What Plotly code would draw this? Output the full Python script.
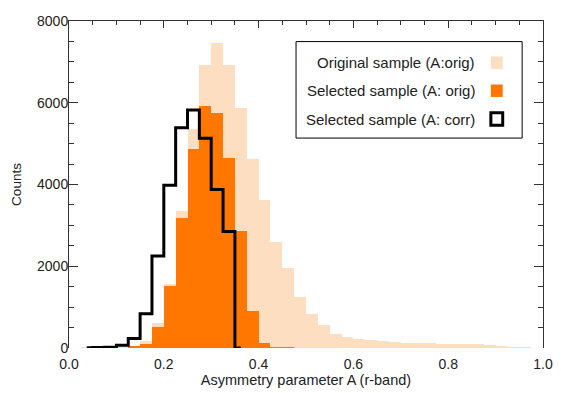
import plotly.graph_objects as go

# Bin centres (bin width 0.025)
centres = [round(0.0125 + 0.025 * i, 4) for i in range(40)]

# Original sample (A: orig)
orig_counts = [0, 5, 5, 10, 15, 40, 160, 620, 1570, 3340,
               5350, 6935, 7450, 6935, 5860, 4620, 3620, 2590, 1950, 1255,
               828, 575, 335, 275, 225, 190, 165, 145, 130, 120,
               115, 110, 105, 100, 90, 65, 40, 15, 5, 0]

# Selected sample (A: orig)
sel_counts = [0, 0, 0, 0, 0, 25, 105, 513, 1510, 3180,
              4865, 5915, 5750, 4650, 2860, 905, 115, 15, 10, 0,
              0, 0, 0, 0, 0, 0, 0, 0, 0, 0,
              0, 0, 0, 0, 0, 0, 0, 0, 0, 0]

# Selected sample (A: corr), histogram-style line
corr_centres = [0.0375, 0.0625, 0.0875, 0.1125, 0.1375, 0.1625, 0.1875,
                0.2125, 0.2375, 0.2625, 0.2875, 0.3125, 0.3375, 0.3625]
corr_counts = [5, 10, 20, 70, 230, 835, 2250, 3980, 5390, 5820, 5130,
               3880, 2850, 0]

legend_labels = ["Original sample (A:orig)", "Selected sample (A: orig)",
                 "Selected sample (A: corr)"]

light = "rgb(254,222,192)"
orange = "rgb(255,118,0)"
axis_col = "#333333"
fam = "Liberation Sans, Arial, sans-serif"
txt_col = "#222222"

fig = go.Figure()

fig.add_trace(go.Bar(x=centres, y=orig_counts, width=0.025,
                     marker=dict(color=light, line=dict(width=0)),
                     showlegend=False))
fig.add_trace(go.Bar(x=centres, y=sel_counts, width=0.025,
                     marker=dict(color=orange, line=dict(width=0)),
                     showlegend=False))
fig.add_trace(go.Scatter(x=corr_centres, y=corr_counts, mode="lines",
                         line=dict(color="black", width=3, shape="hvh"),
                         showlegend=False))
# dummy trace so the top axis is drawn
fig.add_trace(go.Scatter(x=[0, 1], y=[None, None], xaxis="x2",
                         showlegend=False, hoverinfo="skip"))

# hand-made legend (text right aligned, symbol on the right)
ys = [0.8725, 0.7868, 0.7003]
fig.add_shape(type="rect", xref="paper", yref="paper", x0=0.479, x1=0.956,
              y0=0.642, y1=0.937, line=dict(color="black", width=1),
              fillcolor="white", layer="above")
sym_fill = [light, orange, "white"]
sym_line = [0, 0, 3]
for label, yy, fc, lw in zip(legend_labels, ys, sym_fill, sym_line):
    fig.add_annotation(x=0.861, y=yy, xref="paper", yref="paper",
                       text=label, showarrow=False, xanchor="right",
                       yanchor="middle",
                       font=dict(family=fam, size=15, color=txt_col))
    fig.add_shape(type="rect", xref="paper", yref="paper",
                  x0=0.890, x1=0.915, y0=yy - 0.019, y1=yy + 0.019,
                  fillcolor=fc, line=dict(color="black", width=lw),
                  layer="above")

fig.update_layout(
    width=561, height=393,
    margin=dict(l=69, r=18, t=21, b=45),
    paper_bgcolor="white", plot_bgcolor="white",
    barmode="overlay", bargap=0,
    font=dict(family=fam, size=14, color=txt_col),
    xaxis=dict(range=[0, 1], tickvals=[0, 0.2, 0.4, 0.6, 0.8, 1.0],
               tickformat=".1f", showline=False, ticks="",
               showgrid=False, zeroline=False, automargin=False,
               tickfont=dict(size=14), ticklabelstandoff=6,
               title=dict(text="Asymmetry parameter A (r-band)", standoff=1,
                          font=dict(size=14.5))),
    xaxis2=dict(range=[0, 1], overlaying="x", side="top", anchor="y",
                showline=True, linecolor=axis_col, linewidth=1,
                ticks="inside", dtick=0.2, tick0=0, ticklen=7,
                tickcolor=axis_col, showticklabels=False, showgrid=False,
                zeroline=False, automargin=False,
                minor=dict(dtick=0.05, ticks="inside", ticklen=4,
                           tickcolor=axis_col)),
    yaxis=dict(range=[0, 8000], tickvals=[0, 2000, 4000, 6000, 8000],
               showline=True, linecolor=axis_col, linewidth=1,
               mirror="ticks", ticks="inside", ticklen=9,
               tickcolor=axis_col, showgrid=False, zeroline=False,
               automargin=False, tickfont=dict(size=14),
               ticklabelstandoff=-3,
               minor=dict(dtick=500, ticks="inside", ticklen=5,
                          tickcolor=axis_col),
               title=dict(text="Counts", standoff=12,
                          font=dict(size=13.5))),
)

# remove the browser's default body margin so the figure sits at 0,0
fig.write_html("out.html", config={"displayModeBar": False},
               post_script="document.body.style.margin='0px';")
